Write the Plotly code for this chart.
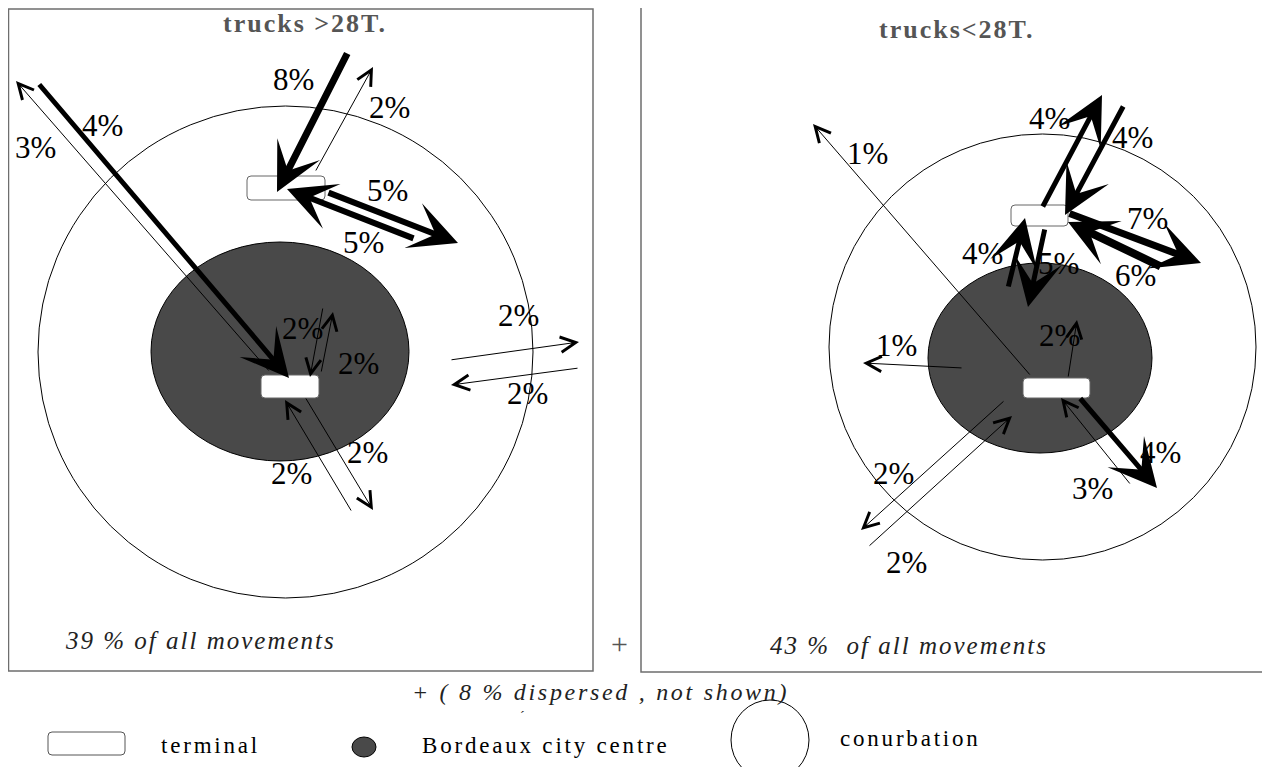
import plotly.graph_objects as go

W, H = 1270, 767
OFF = 8  # page body margin: keep reference pixel coordinates on screen
SERIF = "Liberation Serif, Times New Roman, serif"

# ── panels ────────────────────────────────────────────────────────────────────
panel_titles = ["trucks >28T.", "trucks<28T."]
panel_title_x = [305, 957]
panel_title_y = [23, 29]
panel_notes = ["39 % of all movements", "43 %  of all movements"]
panel_note_x = [200, 909]
panel_note_y = [640, 645]
panel_boxes = [(8.5, 9, 593, 671), (641, -5, 1290, 672)]

# zones: centre x, centre y, radius x, radius y
conurb_cx = [285.5, 1042.5]
conurb_cy = [352, 347]
conurb_rx = [247.5, 213.5]
conurb_ry = [246, 213]
centre_cx = [280, 1040]
centre_cy = [351.5, 358]
centre_rx = [129, 112]
centre_ry = [109.5, 95]

# terminals: x0, y0, x1, y1
terminal_x0 = [247, 261, 1011, 1023]
terminal_y0 = [176, 375, 205, 378]
terminal_x1 = [325, 319, 1068, 1090]
terminal_y1 = [200, 398, 226, 398]

# ── flows (tail -> head), line weight grows with the share ────────────────────
flow_tail_x = [348, 315, 327, 415, 38, 270, 323, 321, 450, 579, 352, 305,
               1031, 1042, 1124, 1068, 1162, 1008, 1045, 1068, 963, 1005, 868, 1079, 1131]
flow_tail_y = [52, 172, 192, 239, 83, 372, 307, 373, 360, 368, 512, 397,
               376, 208, 105, 213, 267, 288, 228, 378, 368, 400, 547, 397, 485]
flow_head_x = [277, 373, 458, 287, 289, 16, 310, 333, 579, 451, 285, 373,
               813, 1102, 1065, 1201, 1068, 1025, 1028, 1077, 863, 861, 1012, 1157, 1061]
flow_head_y = [192, 67, 243, 189, 378, 81, 377, 312, 342, 385, 400, 510,
               124, 95, 215, 263, 222, 218, 307, 320, 363, 530, 416, 488, 398]
flow_weight = [7, 1, 6, 6, 5, 1, 1, 1, 1, 1, 1, 1,
               1, 5, 5, 7, 8, 5, 5, 1, 1, 1, 1, 5, 1]

# ── share labels ──────────────────────────────────────────────────────────────
label_text = ["8%", "2%", "5%", "5%", "4%", "3%", "2%", "2%", "2%", "2%", "2%", "2%",
              "1%", "4%", "4%", "7%", "6%", "4%", "5%", "2%", "1%", "2%", "2%", "4%", "3%"]
label_x = [293, 389, 387, 363, 102, 35, 302, 358, 518, 527, 291, 367,
           867, 1049, 1132, 1147, 1135, 982, 1058, 1059, 896, 893, 906, 1160, 1092]
label_y = [79, 107, 190, 242, 125, 147, 328, 363, 315, 393, 473, 452,
           153, 118, 137, 218, 275, 253, 263, 335, 345, 473, 562, 452, 488]

# ── legend ────────────────────────────────────────────────────────────────────
legend_text = ["terminal", "Bordeaux city centre", "conurbation"]
legend_text_x = [159, 420, 838]
legend_text_y = [745, 745, 738]
dispersed_text = "+ ( 8 % dispersed , not shown)"


def rounded_rect(x0, y0, x1, y1, r=4):
    return (f"M{x0 + r},{y0} H{x1 - r} Q{x1},{y0} {x1},{y0 + r} V{y1 - r} "
            f"Q{x1},{y1} {x1 - r},{y1} H{x0 + r} Q{x0},{y1} {x0},{y1 - r} "
            f"V{y0 + r} Q{x0},{y0} {x0 + r},{y0} Z")


def spaced(txt, px):
    return f'<span style="letter-spacing:{px}px">{txt}</span>'


fig = go.Figure()

# panel frames
for x0, y0, x1, y1 in panel_boxes:
    fig.add_shape(type="rect", x0=x0, y0=y0, x1=x1, y1=y1,
                  line=dict(color="#6e6e6e", width=1.5), fillcolor="rgba(0,0,0,0)")

# conurbation + city centre
for i in range(2):
    fig.add_shape(type="circle",
                  x0=conurb_cx[i] - conurb_rx[i], x1=conurb_cx[i] + conurb_rx[i],
                  y0=conurb_cy[i] - conurb_ry[i], y1=conurb_cy[i] + conurb_ry[i],
                  line=dict(color="black", width=1), fillcolor="white")
    fig.add_shape(type="circle",
                  x0=centre_cx[i] - centre_rx[i], x1=centre_cx[i] + centre_rx[i],
                  y0=centre_cy[i] - centre_ry[i], y1=centre_cy[i] + centre_ry[i],
                  line=dict(color="black", width=1), fillcolor="#494949")

# terminals
for x0, y0, x1, y1 in zip(terminal_x0, terminal_y0, terminal_x1, terminal_y1):
    fig.add_shape(type="path", path=rounded_rect(x0, y0, x1, y1),
                  line=dict(color="#666666", width=1), fillcolor="white")

# flows
for tx, ty, hx, hy, w in zip(flow_tail_x, flow_tail_y, flow_head_x, flow_head_y, flow_weight):
    thin = w <= 1
    fig.add_annotation(
        x=hx, y=hy, ax=tx, ay=ty, xref="x", yref="y", axref="x", ayref="y",
        text="", showarrow=True, standoff=0,
        arrowhead=5 if thin else 3,
        arrowwidth=1 if thin else w,
        arrowsize=3 if thin else 8.0 / w,
        arrowcolor="black",
    )

# share labels
for t, x, y in zip(label_text, label_x, label_y):
    fig.add_annotation(x=x, y=y, xref="x", yref="y", text=t,
                       showarrow=False, font=dict(family=SERIF, size=31, color="black"))

# panel titles + notes
for t, x, y in zip(panel_titles, panel_title_x, panel_title_y):
    fig.add_annotation(x=x, y=y, xref="x", yref="y", text=spaced(f"<b>{t}</b>", 2),
                       showarrow=False, font=dict(family=SERIF, size=26, color="#555555"))
for t, x, y in zip(panel_notes, panel_note_x, panel_note_y):
    fig.add_annotation(x=x, y=y, xref="x", yref="y", text=spaced(f"<i>{t}</i>", 2),
                       showarrow=False, font=dict(family=SERIF, size=25, color="#222222"))

fig.add_annotation(x=619, y=643, xref="x", yref="y", text="+", showarrow=False,
                   font=dict(family=SERIF, size=30, color="#555555"))
fig.add_annotation(x=600, y=692, xref="x", yref="y", text=spaced(f"<i>{dispersed_text}</i>", 2.7),
                   showarrow=False, font=dict(family=SERIF, size=24, color="#222222"))
fig.add_annotation(x=522, y=716, xref="x", yref="y", text="´", showarrow=False,
                   font=dict(family=SERIF, size=14, color="#222222"))

# legend keys
fig.add_shape(type="path", path=rounded_rect(48, 732, 125, 755),
              line=dict(color="#555555", width=1), fillcolor="white")
fig.add_shape(type="circle", x0=352, x1=376, y0=737, y1=757,
              line=dict(color="black", width=1), fillcolor="#494949")
fig.add_shape(type="circle", x0=731, x1=809, y0=700, y1=780,
              line=dict(color="black", width=1), fillcolor="white")
for t, x, y in zip(legend_text, legend_text_x, legend_text_y):
    fig.add_annotation(x=x, y=y, xref="x", yref="y", text=spaced(t, 2.8), showarrow=False,
                       xanchor="left", font=dict(family=SERIF, size=23, color="black"))

fig.update_xaxes(range=[OFF, W + OFF], visible=False, fixedrange=True)
fig.update_yaxes(range=[H + OFF, OFF], visible=False, fixedrange=True)
fig.update_layout(
    width=W, height=H, margin=dict(l=0, r=0, t=0, b=0),
    paper_bgcolor="white", plot_bgcolor="white", showlegend=False,
)
fig.write_html("out.html")
